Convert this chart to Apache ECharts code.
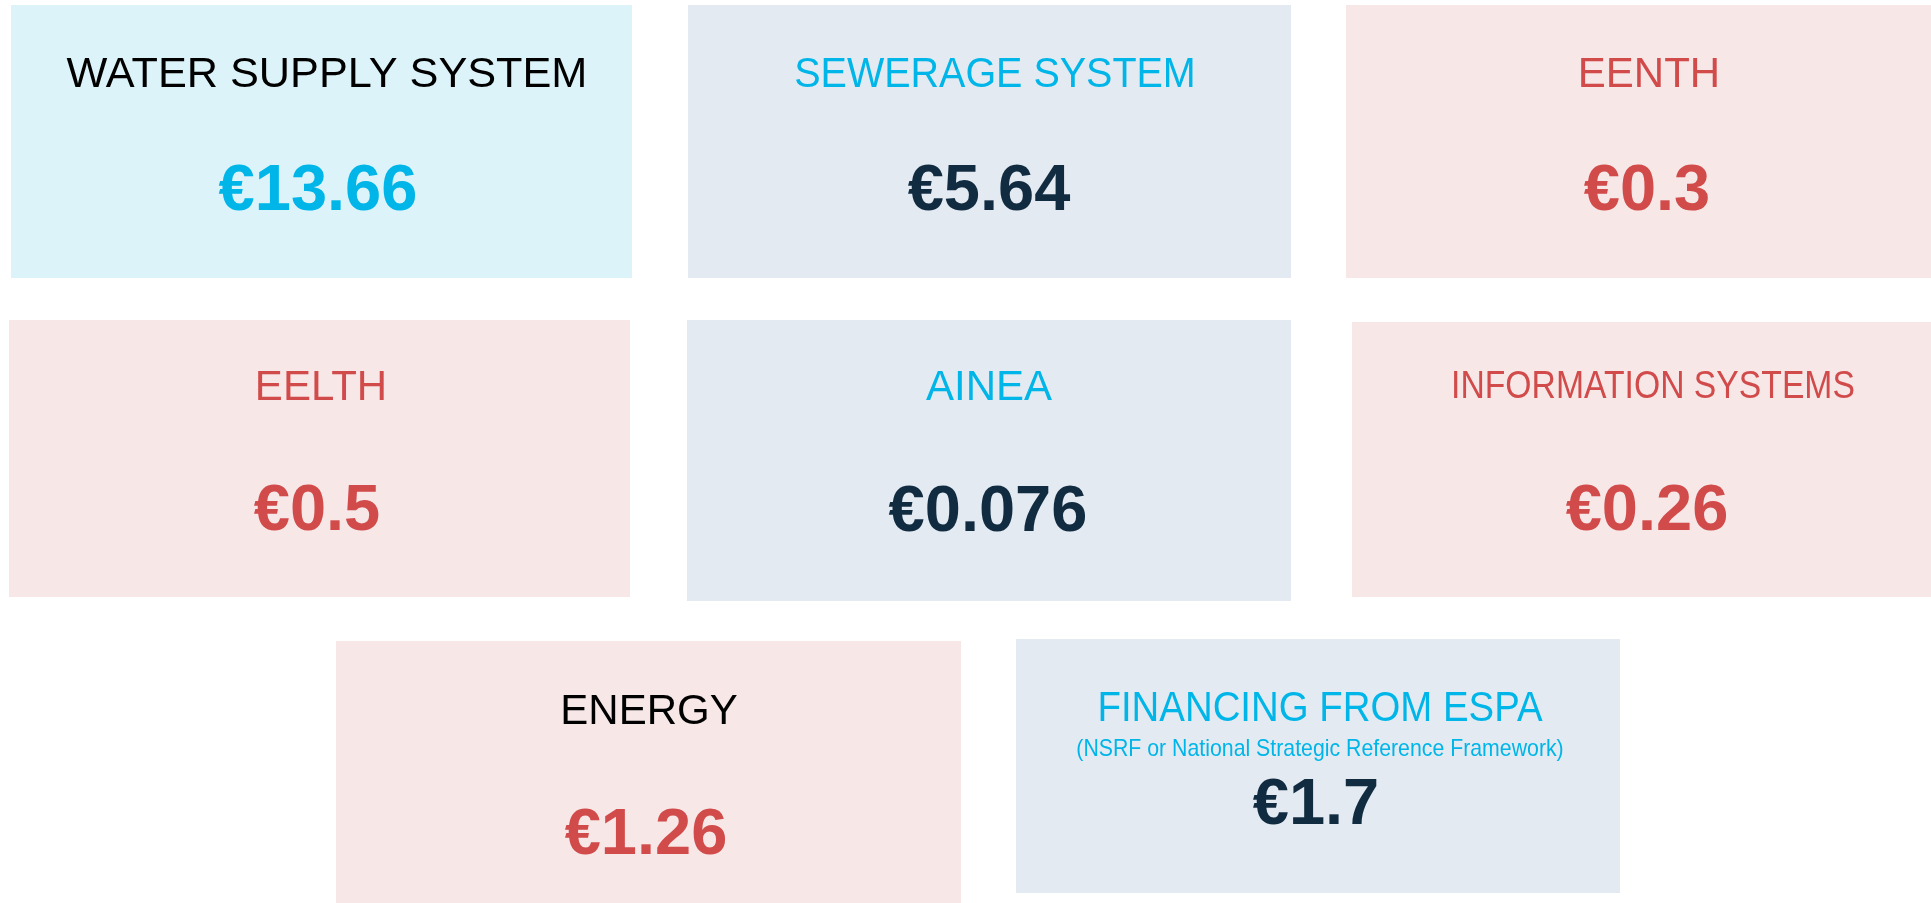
<!DOCTYPE html>
<html>
<head>
<meta charset="utf-8">
<script src="https://cdn.jsdelivr.net/npm/echarts@6/dist/echarts.min.js"></script>
<style>
html,body{margin:0;padding:0;background:#fff;}
#main{width:1931px;height:903px;}
</style>
</head>
<body>
<div id="main"></div>
<script>
// ---- data ----
var titles = ['WATER SUPPLY SYSTEM', 'SEWERAGE SYSTEM', 'EENTH', 'EELTH', 'AINEA', 'INFORMATION SYSTEMS', 'ENERGY', 'FINANCING FROM ESPA'];
var subtitles = ['', '', '', '', '', '', '', '(NSRF or National Strategic Reference Framework)'];
var values = [13.66, 5.64, 0.3, 0.5, 0.076, 0.26, 1.26, 1.7];
var valueLabels = ['13.66', '5.64', '0.3', '0.5', '0.076', '0.26', '1.26', '1.7'];
var currency = '€';

// ---- layout & styles (kept separate from data) ----
var boxes = [
  [11, 5, 621, 273], [688, 5, 603, 273], [1346, 5, 600, 273],
  [9, 320, 621, 277], [687, 320, 604, 281], [1352, 322, 590, 275],
  [336, 641, 625, 270], [1016, 639, 604, 254]
];
var titlePos = [[327, 75], [995, 75], [1649, 75], [321, 388.5], [989, 388.5], [1653, 387.5], [649, 712], [1320, 709]];
var valuePos = [[318, 192], [989, 192], [1647, 192], [317, 512], [988, 513], [1647, 512], [646, 836], [1316, 806]];
var subPos = [null, null, null, null, null, null, null, [1320, 749]];
var titleScale = [1.03, 0.94, 1, 1, 1, 0.887, 1, 0.914];
var titleSize = [42, 42, 42, 42, 42, 38, 42, 42];
var CYAN = '#00b5e8', RED = '#d24b4b', NAVY = '#112b40', BLACK = '#000000';
var bgColors = ['#dcf3fa', '#e3eaf2', '#f7e7e7', '#f7e7e7', '#e3eaf2', '#f7e7e7', '#f7e7e7', '#e3eaf2'];
var titleColors = [BLACK, CYAN, RED, RED, CYAN, RED, BLACK, CYAN];
var valueColors = [CYAN, NAVY, RED, RED, NAVY, RED, RED, NAVY];
var FONT = '"Liberation Sans", Arial, sans-serif';

var chart = echarts.init(document.getElementById('main'), null, {renderer: 'canvas'});
var elements = [];
titles.forEach(function (t, i) {
  var b = boxes[i];
  elements.push({
    type: 'rect', shape: {x: b[0], y: b[1], width: b[2], height: b[3]},
    style: {fill: bgColors[i]}, silent: true, z: 1
  });
  elements.push({
    type: 'text', x: titlePos[i][0], y: titlePos[i][1], scaleX: titleScale[i], z: 2,
    style: {text: t, fill: titleColors[i], font: 'normal ' + titleSize[i] + 'px ' + FONT,
      align: 'center', verticalAlign: 'middle'}
  });
  if (subtitles[i]) {
    elements.push({
      type: 'text', x: subPos[i][0], y: subPos[i][1], scaleX: 0.887, z: 2,
      style: {text: subtitles[i], fill: titleColors[i], font: 'normal 24px ' + FONT,
        align: 'center', verticalAlign: 'middle'}
    });
  }
  elements.push({
    type: 'text', x: valuePos[i][0], y: valuePos[i][1], z: 2,
    style: {text: currency + valueLabels[i], fill: valueColors[i], font: 'bold 65px ' + FONT,
      align: 'center', verticalAlign: 'middle'}
  });
});

chart.setOption({
  backgroundColor: '#ffffff',
  animation: false,
  graphic: {elements: elements}
});
</script>
</body>
</html>
